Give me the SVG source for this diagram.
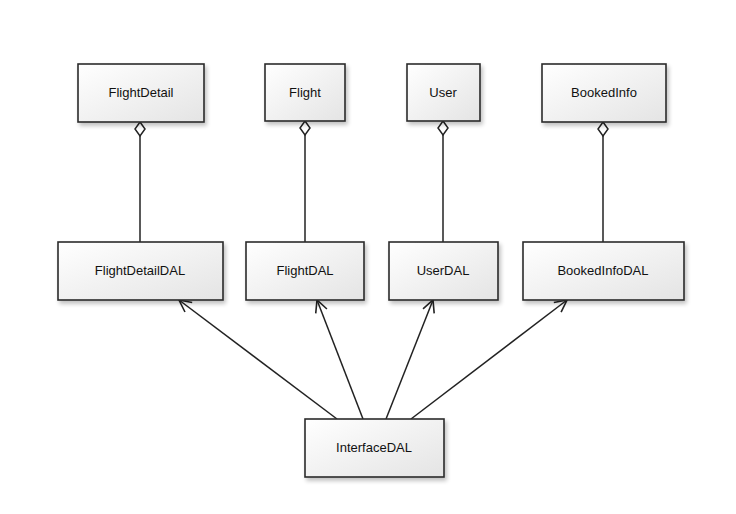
<svg xmlns="http://www.w3.org/2000/svg" width="736" height="514" viewBox="0 0 736 514">
<defs>
<linearGradient id="g" x1="0" y1="0" x2="1" y2="1">
<stop offset="0" stop-color="#ffffff"/>
<stop offset="1" stop-color="#e4e4e4"/>
</linearGradient>
<filter id="sh" x="-10%" y="-10%" width="130%" height="140%">
<feGaussianBlur in="SourceAlpha" stdDeviation="2"/>
<feOffset dx="2" dy="3" result="b"/>
<feComponentTransfer><feFuncA type="linear" slope="0.25"/></feComponentTransfer>
<feMerge><feMergeNode/><feMergeNode in="SourceGraphic"/></feMerge>
</filter>
<marker id="open" viewBox="0 0 14 14" refX="13" refY="7" markerWidth="14" markerHeight="14" markerUnits="userSpaceOnUse" orient="auto">
<path d="M1,1 L13,7 L1,13" fill="none" stroke="#222" stroke-width="1.6"/>
</marker>
</defs>
<style>
.box{fill:url(#g);stroke:#2a2a2a;stroke-width:1.6;filter:url(#sh)}
.lbl{font-family:"Liberation Sans",Arial,sans-serif;font-size:13px;fill:#111;text-anchor:middle}
.ln{stroke:#222;stroke-width:1.5;fill:none}
.dia{fill:#fff;stroke:#222;stroke-width:1.5}
</style>
<rect width="736" height="514" fill="#fff"/>
<g id="connectors">
<line class="ln" x1="140" y1="136" x2="140" y2="242"/>
<path class="dia" d="M140,122 L145,129 L140,136 L135,129 Z"/>
<line class="ln" x1="305" y1="135" x2="305" y2="242"/>
<path class="dia" d="M305,121 L310,128 L305,135 L300,128 Z"/>
<line class="ln" x1="443" y1="135" x2="443" y2="242"/>
<path class="dia" d="M443,121 L448,128 L443,135 L438,128 Z"/>
<line class="ln" x1="603" y1="136" x2="603" y2="242"/>
<path class="dia" d="M603,122 L608,129 L603,136 L598,129 Z"/>
<line class="ln" x1="337" y1="419" x2="179" y2="300" marker-end="url(#open)"/>
<line class="ln" x1="363" y1="419" x2="317" y2="300" marker-end="url(#open)"/>
<line class="ln" x1="386" y1="419" x2="433" y2="300" marker-end="url(#open)"/>
<line class="ln" x1="411" y1="419" x2="567" y2="300" marker-end="url(#open)"/>
</g>
<g id="FlightDetail"><rect class="box" x="78" y="64" width="126" height="58"/><text class="lbl" x="141" y="97">FlightDetail</text></g>
<g id="Flight"><rect class="box" x="265" y="64" width="80" height="57"/><text class="lbl" x="305" y="97">Flight</text></g>
<g id="User"><rect class="box" x="407" y="64" width="73" height="57"/><text class="lbl" x="443" y="97">User</text></g>
<g id="BookedInfo"><rect class="box" x="542" y="64" width="124" height="58"/><text class="lbl" x="604" y="97">BookedInfo</text></g>
<g id="FlightDetailDAL"><rect class="box" x="58" y="242" width="165" height="58"/><text class="lbl" x="140" y="275">FlightDetailDAL</text></g>
<g id="FlightDAL"><rect class="box" x="246" y="242" width="118" height="58"/><text class="lbl" x="305" y="275">FlightDAL</text></g>
<g id="UserDAL"><rect class="box" x="389" y="242" width="109" height="58"/><text class="lbl" x="443" y="275">UserDAL</text></g>
<g id="BookedInfoDAL"><rect class="box" x="523" y="242" width="161" height="58"/><text class="lbl" x="603" y="275">BookedInfoDAL</text></g>
<g id="InterfaceDAL"><rect class="box" x="305" y="419" width="139" height="58"/><text class="lbl" x="374" y="452">InterfaceDAL</text></g>
</svg>
